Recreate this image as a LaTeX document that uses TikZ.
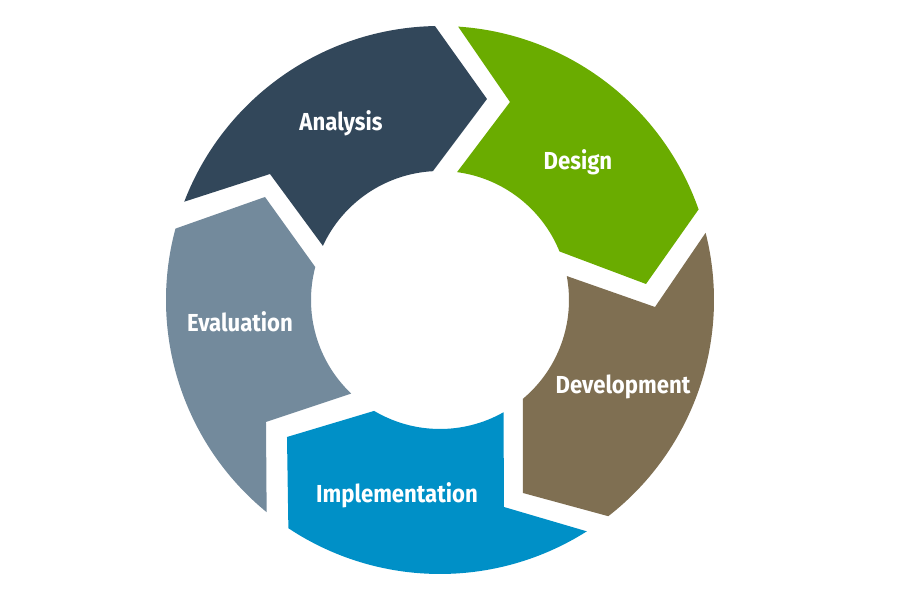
\documentclass[tikz,border=0pt]{standalone}
\usepackage{fontspec}
\setmainfont{Fira Sans}[FakeStretch=0.9]
\usepackage{tikz}
\definecolor{an}{HTML}{32475A}
\definecolor{de}{HTML}{6AAC00}
\definecolor{dv}{HTML}{7F6F52}
\definecolor{im}{HTML}{0090C7}
\definecolor{ev}{HTML}{738A9C}
\newcommand{\Ro}{274}
\newcommand{\Ri}{129}
% colour, outer arc from/to, tip, inner arc from/to, notch
\newcommand{\seg}[7]{ \fill[#1] (#2:\Ro) arc[start angle=#2, end angle=#3, radius=\Ro]
    -- #4 -- (#5:\Ri) arc[start angle=#5, end angle=#6, radius=\Ri] -- #7 -- cycle; }
\tikzset{lbl/.style={text=white, anchor=base, inner sep=0pt,
            font=\bfseries\fontsize{14}{16}\selectfont}}

\begin{document}
\begin{tikzpicture}[x=0.02cm, y=0.02cm]
 \useasboundingbox (-440,-297) rectangle (460,300);

 \seg{an}{158.98}{91.05}{(47,201)}{93.15}{155.2}{(-170,126)}
 \seg{de}{86.2}{19.3}{(206,16)}{22.1}{82.4}{(70,198)}
 \seg{dv}{14.2}{-52.1}{(83,-193)}{-50.0}{10.7}{(215,-7)}
 \seg{im}{-57.6}{-123.6}{(-153,-137)}{-120.7}{-60.5}{(64,-207)}
 \seg{ev}{230.75}{164.9}{(-175,103)}{165.2}{226.5}{(-174,-122)}

 \node[lbl] (ana) at (-99,169) {Analysis};
 \node[lbl] (des) at (138,130) {Design};
 \node[lbl] (dev) at (183,-94) {Development};
 \node[lbl] (imp) at (-43,-203) {Implementation};
 \node[lbl] (eva) at (-200,-32) {Evaluation};
\end{tikzpicture}
\end{document}
